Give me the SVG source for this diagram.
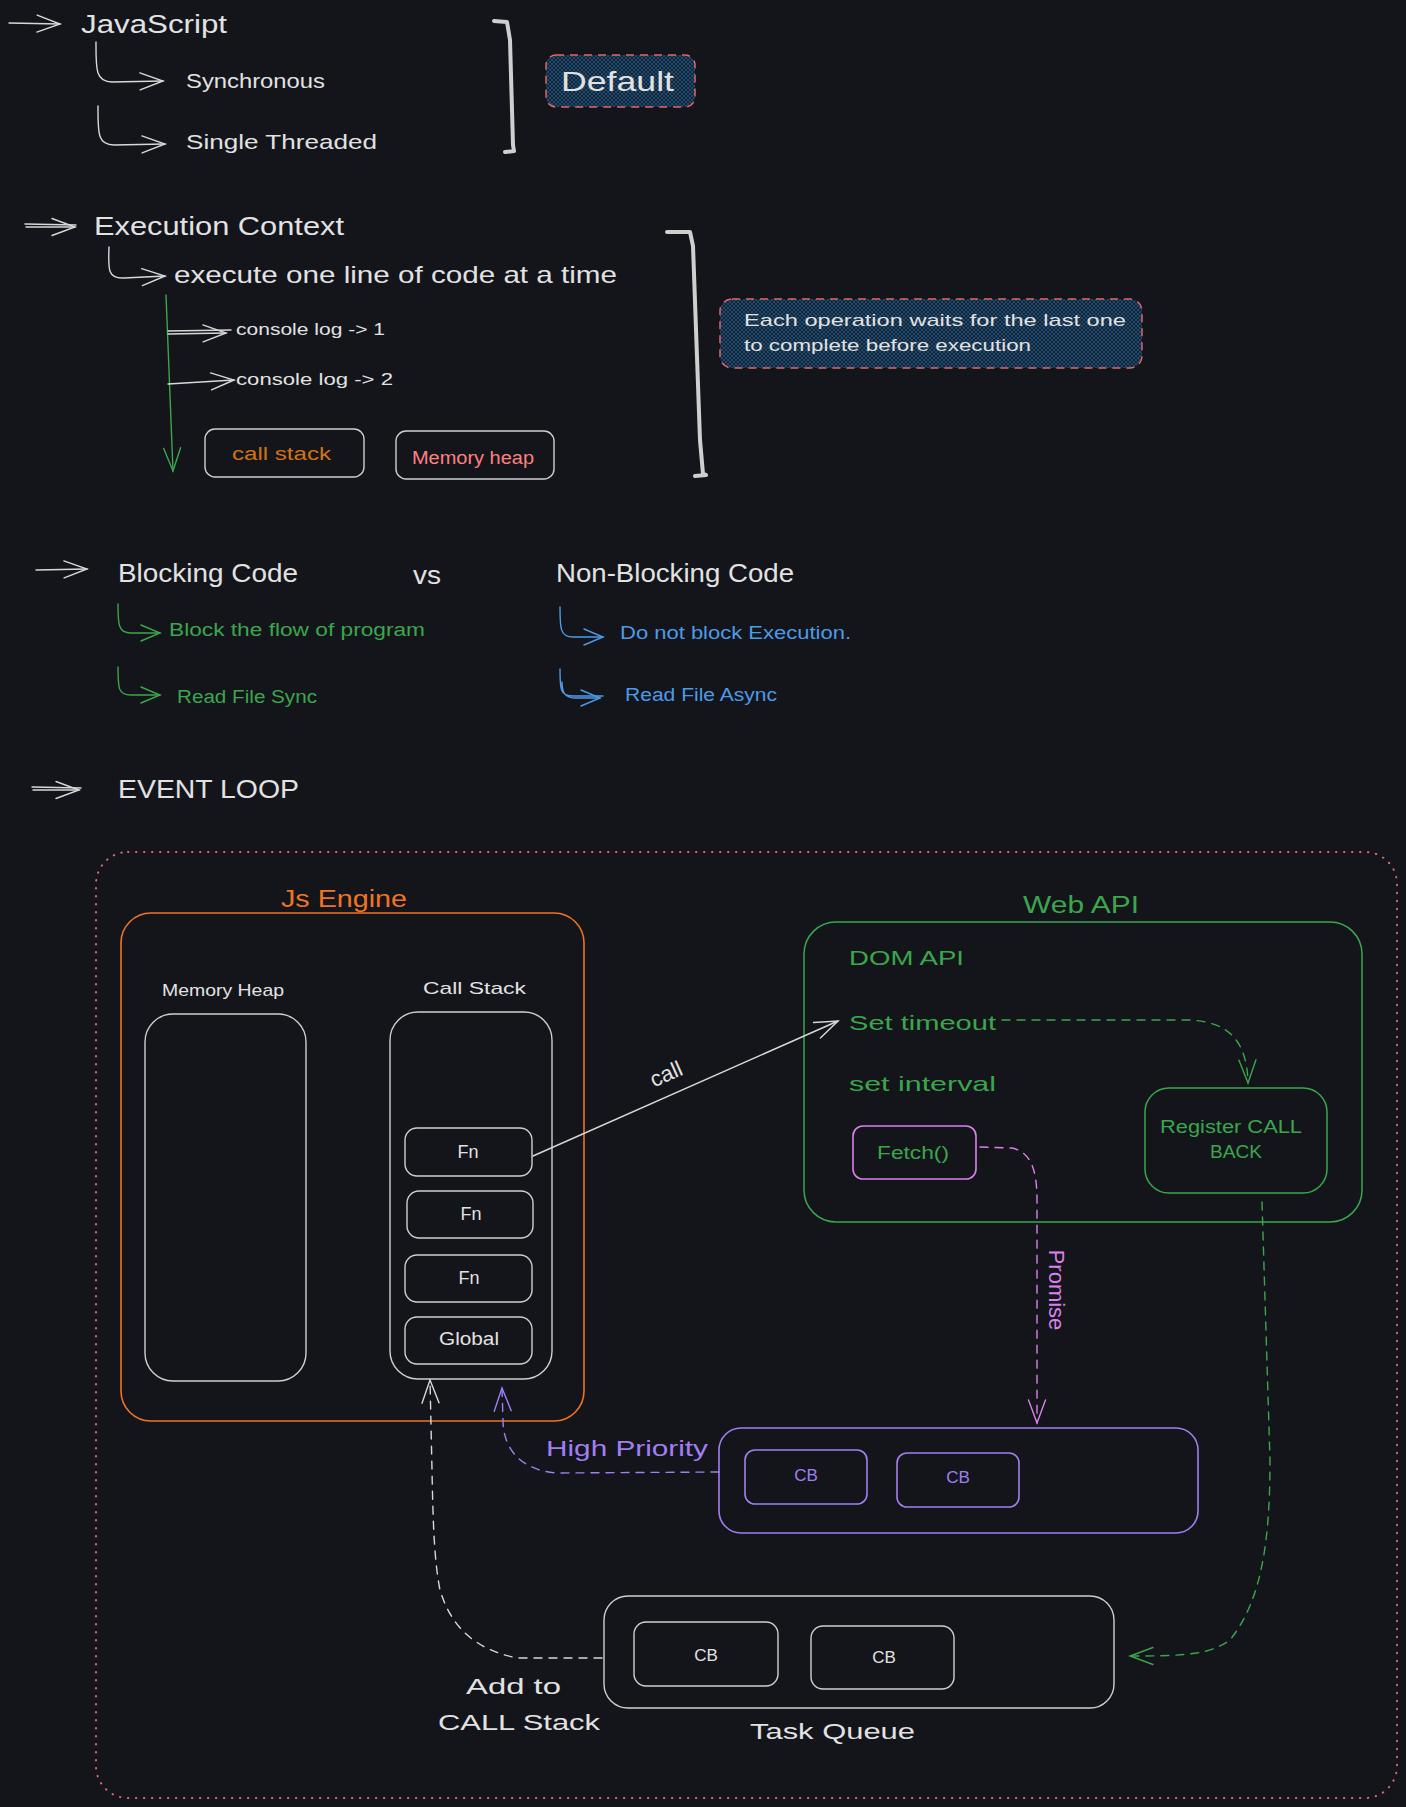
<svg xmlns="http://www.w3.org/2000/svg" width="1406" height="1807" viewBox="0 0 1406 1807">
  <defs>
    <style>
      text { font-family: "Liberation Sans", "Noto Sans", sans-serif; dominant-baseline: central; }
      .t { fill: #e2e2e2; }
      .green { fill: #3ba64d; }
      .blue { fill: #4c9be8; }
      .violet { fill: #a17ff2; }
      .pink { fill: #db80ec; }
      .orange { fill: #ef7424; }
      .box { fill: none; stroke: #cfcfcf; stroke-width: 1.4; }
      .box-green { fill: none; stroke: #3ba64d; stroke-width: 1.5; }
      .box-violet { fill: none; stroke: #a17ff2; stroke-width: 1.6; }
      .box-pink { fill: none; stroke: #db80ec; stroke-width: 1.6; }
      .box-orange { fill: none; stroke: #ef7424; stroke-width: 1.6; }
      .note { fill: url(#hatch); stroke: #e0666b; stroke-width: 1.5; stroke-dasharray: 8 6; }
      .bracket { fill: none; stroke: #cfcfcf; stroke-width: 4; stroke-linecap: round; stroke-linejoin: round; }
      .ln { fill: none; stroke-width: 1.4; stroke-linecap: round; }
      .w { stroke: #d8d8d8; }
      .g { stroke: #3ba64d; }
      .b { stroke: #4c9be8; }
      .v { stroke: #a17ff2; }
      .p { stroke: #db80ec; }
      .dash { stroke-dasharray: 8 7; }
      .frame { fill: none; stroke: #e0666b; stroke-width: 2; stroke-dasharray: 0.5 7.5; stroke-linecap: round; }
    </style>
    <!-- cross-hatch fill for the highlighted notes -->
    <pattern id="hatch" width="4" height="4" patternUnits="userSpaceOnUse">
      <rect width="4" height="4" fill="#152536"/>
      <path d="M0,4 L4,0 M-1,1 L1,-1 M3,5 L5,3" stroke="#1f4a70" stroke-width="1"/>
      <path d="M0,0 L4,4 M-1,3 L1,5 M3,-1 L5,1" stroke="#1f4a70" stroke-width="1"/>
    </pattern>
    <marker id="hw" markerUnits="userSpaceOnUse" orient="auto" overflow="visible" markerWidth="1" markerHeight="1">
      <path d="M-23,-8.5 L0,0 L-23,8.5" fill="none" stroke="#d8d8d8" stroke-width="1.4" stroke-linecap="round"/>
    </marker>
    <marker id="hg" markerUnits="userSpaceOnUse" orient="auto" overflow="visible" markerWidth="1" markerHeight="1">
      <path d="M-23,-8.5 L0,0 L-23,8.5" fill="none" stroke="#3ba64d" stroke-width="1.4" stroke-linecap="round"/>
    </marker>
    <marker id="hgs" markerUnits="userSpaceOnUse" orient="auto" overflow="visible" markerWidth="1" markerHeight="1">
      <path d="M-19,-8 L0,0 L-19,8" fill="none" stroke="#3ba64d" stroke-width="1.4" stroke-linecap="round"/>
    </marker>
    <marker id="hb" markerUnits="userSpaceOnUse" orient="auto" overflow="visible" markerWidth="1" markerHeight="1">
      <path d="M-19,-8 L0,0 L-19,8" fill="none" stroke="#4c9be8" stroke-width="1.4" stroke-linecap="round"/>
    </marker>
    <marker id="hv" markerUnits="userSpaceOnUse" orient="auto" overflow="visible" markerWidth="1" markerHeight="1">
      <path d="M-23,-8.5 L0,0 L-23,8.5" fill="none" stroke="#a17ff2" stroke-width="1.4" stroke-linecap="round"/>
    </marker>
    <marker id="hp" markerUnits="userSpaceOnUse" orient="auto" overflow="visible" markerWidth="1" markerHeight="1">
      <path d="M-23,-8.5 L0,0 L-23,8.5" fill="none" stroke="#db80ec" stroke-width="1.4" stroke-linecap="round"/>
    </marker>
  </defs>

  <rect width="1406" height="1807" fill="#13151a"/>

  <!-- JavaScript basics -->
  <g id="javascript">
    <text class="t" x="81" y="24" font-size="26" textLength="146" lengthAdjust="spacingAndGlyphs">JavaScript</text>
  </g>
  <g id="synchronous">
    <text class="t" x="186" y="80" font-size="21" textLength="139" lengthAdjust="spacingAndGlyphs">Synchronous</text>
  </g>
  <g id="single-threaded">
    <text class="t" x="186" y="141" font-size="21" textLength="191" lengthAdjust="spacingAndGlyphs">Single Threaded</text>
  </g>
  <g id="bracket-1">
    <path class="bracket" d="M494,21 L507,22 L510,40 L513,145 L514,151 L505,152"/>
  </g>
  <g id="default">
    <rect class="note" x="546" y="55" width="149" height="52" rx="10"/>
    <text class="t" x="561" y="81" font-size="28" textLength="113" lengthAdjust="spacingAndGlyphs">Default</text>
  </g>

  <!-- Execution context -->
  <g id="execution-context">
    <text class="t" x="94" y="226" font-size="26" textLength="250" lengthAdjust="spacingAndGlyphs">Execution Context</text>
  </g>
  <g id="execute-line">
    <text class="t" x="174" y="274" font-size="24" textLength="443" lengthAdjust="spacingAndGlyphs">execute one line of code at a time</text>
  </g>
  <g id="console-log-1">
    <text class="t" x="236" y="329" font-size="17" textLength="149" lengthAdjust="spacingAndGlyphs">console log -&gt; 1</text>
  </g>
  <g id="console-log-2">
    <text class="t" x="236" y="379" font-size="17" textLength="157" lengthAdjust="spacingAndGlyphs">console log -&gt; 2</text>
  </g>
  <g id="call-stack-small">
    <rect class="box" x="205" y="429" width="159" height="48" rx="10"/>
    <text style="fill:#d27313" x="232" y="454" font-size="18" textLength="99" lengthAdjust="spacingAndGlyphs">call stack</text>
  </g>
  <g id="memory-heap-small">
    <rect class="box" x="396" y="431" width="158" height="48" rx="10"/>
    <text style="fill:#ff8080" x="412" y="458" font-size="18" textLength="122" lengthAdjust="spacingAndGlyphs">Memory heap</text>
  </g>
  <g id="bracket-2">
    <path class="bracket" d="M667,232 L690,232 L693,246 L700,440 L703,474 L706,475 L695,476"/>
  </g>
  <g id="note-wait">
    <rect class="note" x="720" y="299" width="422" height="69" rx="12"/>
    <text class="t" x="744" y="320" font-size="17" textLength="382" lengthAdjust="spacingAndGlyphs">Each operation waits for the last one</text>
    <text class="t" x="744" y="345" font-size="17" textLength="287" lengthAdjust="spacingAndGlyphs">to complete before execution</text>
  </g>

  <!-- Blocking vs non-blocking -->
  <g id="blocking-code">
    <text class="t" x="118" y="573" font-size="26" textLength="180" lengthAdjust="spacingAndGlyphs">Blocking Code</text>
  </g>
  <g id="vs">
    <text class="t" x="413" y="575" font-size="26" textLength="28" lengthAdjust="spacingAndGlyphs">vs</text>
  </g>
  <g id="non-blocking-code">
    <text class="t" x="556" y="573" font-size="26" textLength="238" lengthAdjust="spacingAndGlyphs">Non-Blocking Code</text>
  </g>
  <g id="block-flow">
    <text class="green" x="169" y="630" font-size="18" textLength="256" lengthAdjust="spacingAndGlyphs">Block the flow of program</text>
  </g>
  <g id="read-file-sync">
    <text class="green" x="177" y="697" font-size="18" textLength="140" lengthAdjust="spacingAndGlyphs">Read File Sync</text>
  </g>
  <g id="no-block">
    <text class="blue" x="620" y="633" font-size="18" textLength="231" lengthAdjust="spacingAndGlyphs">Do not block Execution.</text>
  </g>
  <g id="read-file-async">
    <text class="blue" x="625" y="695" font-size="18" textLength="152" lengthAdjust="spacingAndGlyphs">Read File Async</text>
  </g>

  <!-- Event loop -->
  <g id="event-loop">
    <text class="t" x="118" y="789" font-size="26" textLength="181" lengthAdjust="spacingAndGlyphs">EVENT LOOP</text>
    <rect class="frame" x="96" y="852" width="1301" height="946" rx="32"/>
  </g>
  <g id="js-engine">
    <rect class="box-orange" x="121" y="913" width="463" height="508" rx="30"/>
    <text class="orange" x="281" y="899" font-size="23" textLength="126" lengthAdjust="spacingAndGlyphs">Js Engine</text>
  </g>
  <g id="memory-heap">
    <text class="t" x="162" y="990" font-size="17" textLength="122" lengthAdjust="spacingAndGlyphs">Memory Heap</text>
    <rect class="box" x="145" y="1014" width="161" height="367" rx="28"/>
  </g>
  <g id="call-stack">
    <text class="t" x="423" y="988" font-size="17" textLength="103" lengthAdjust="spacingAndGlyphs">Call Stack</text>
    <rect class="box" x="390" y="1012" width="162" height="367" rx="28"/>
  </g>
  <g id="fn-1">
    <rect class="box" x="405" y="1128" width="127" height="48" rx="12"/>
    <text class="t" x="468" y="1152" font-size="18" text-anchor="middle">Fn</text>
  </g>
  <g id="fn-2">
    <rect class="box" x="407" y="1191" width="126" height="47" rx="12"/>
    <text class="t" x="471" y="1214" font-size="18" text-anchor="middle">Fn</text>
  </g>
  <g id="fn-3">
    <rect class="box" x="405" y="1255" width="127" height="47" rx="12"/>
    <text class="t" x="469" y="1278" font-size="18" text-anchor="middle">Fn</text>
  </g>
  <g id="global">
    <rect class="box" x="405" y="1317" width="127" height="47" rx="12"/>
    <text class="t" x="439" y="1339" font-size="18" textLength="60" lengthAdjust="spacingAndGlyphs">Global</text>
  </g>
  <g id="web-api">
    <text class="green" x="1023" y="905" font-size="23" textLength="116" lengthAdjust="spacingAndGlyphs">Web API</text>
    <rect class="box-green" x="804" y="922" width="558" height="300" rx="32"/>
    <text class="green" x="849" y="957" font-size="21" textLength="115" lengthAdjust="spacingAndGlyphs">DOM API</text>
    <text class="green" x="849" y="1022" font-size="21" textLength="147" lengthAdjust="spacingAndGlyphs">Set timeout</text>
    <text class="green" x="849" y="1083" font-size="21" textLength="147" lengthAdjust="spacingAndGlyphs">set interval</text>
  </g>
  <g id="fetch">
    <rect class="box-pink" x="853" y="1126" width="123" height="53" rx="10"/>
    <text class="green" x="877" y="1153" font-size="18" textLength="72" lengthAdjust="spacingAndGlyphs">Fetch()</text>
  </g>
  <g id="register-callback">
    <rect class="box-green" x="1145" y="1088" width="182" height="105" rx="24"/>
    <text class="green" x="1160" y="1127" font-size="18" textLength="142" lengthAdjust="spacingAndGlyphs">Register CALL</text>
    <text class="green" x="1210" y="1152" font-size="18" textLength="52" lengthAdjust="spacingAndGlyphs">BACK</text>
  </g>
  <g id="microtask-queue">
    <rect class="box-violet" x="719" y="1428" width="479" height="105" rx="22"/>
    <rect class="box-violet" x="745" y="1450" width="122" height="54" rx="10"/>
    <text class="violet" x="806" y="1475" font-size="17" text-anchor="middle">CB</text>
    <rect class="box-violet" x="897" y="1453" width="122" height="54" rx="10"/>
    <text class="violet" x="958" y="1477" font-size="17" text-anchor="middle">CB</text>
  </g>
  <g id="task-queue">
    <rect class="box" x="604" y="1596" width="510" height="112" rx="24"/>
    <rect class="box" x="634" y="1622" width="144" height="64" rx="12"/>
    <text class="t" x="706" y="1655" font-size="17" text-anchor="middle">CB</text>
    <rect class="box" x="811" y="1626" width="143" height="63" rx="12"/>
    <text class="t" x="884" y="1657" font-size="17" text-anchor="middle">CB</text>
    <text class="t" x="750" y="1731" font-size="22" textLength="165" lengthAdjust="spacingAndGlyphs">Task Queue</text>
  </g>

  <!-- Connectors -->
  <g id="connectors">
    <!-- top section -->
    <path class="ln w" d="M9,23 L60,24" marker-end="url(#hw)"/>
    <path class="ln w" d="M96,42 C96,68 95,82 112,82 L163,81" marker-end="url(#hw)"/>
    <path class="ln w" d="M98,106 C98,132 97,145 114,145 L165,144" marker-end="url(#hw)"/>
    <path class="ln w" d="M25,224 L76,225 M26,227 L75,227" marker-end="url(#hw)"/>
    <path class="ln w" d="M109,247 C108,270 108,279 124,278 L165,276" marker-end="url(#hw)"/>
    <path class="ln g" d="M166,295 L173,471" marker-end="url(#hg)"/>
    <path class="ln w" d="M168,331 L231,330 M168,334 L226,333" marker-end="url(#hw)"/>
    <path class="ln w" d="M168,384 L234,380" marker-end="url(#hw)"/>
    <path class="ln w" d="M36,570 L87,569" marker-end="url(#hw)"/>
    <path class="ln g" d="M118,604 C118,624 118,633 131,633 L160,633" marker-end="url(#hgs)"/>
    <path class="ln g" d="M118,667 C118,688 118,695 131,695 L160,695" marker-end="url(#hgs)"/>
    <path class="ln b" d="M560,607 C560,628 560,637 573,637 L603,637" marker-end="url(#hb)"/>
    <path class="ln b" d="M560,669 C560,689 560,696 573,696 L603,696 M562,682 C562,693 565,698 576,698 L600,698" marker-end="url(#hb)"/>
    <path class="ln w" d="M32,787 L81,788 M33,790 L79,790" marker-end="url(#hw)"/>
    <!-- event loop -->
    <path class="ln w" d="M533,1156 L838,1021" marker-end="url(#hw)"/>
    <text class="t" x="666" y="1074" font-size="22" text-anchor="middle" transform="rotate(-24 666 1074)">call</text>
    <path class="ln g dash" d="M1002,1020 L1190,1020 C1228,1022 1247,1040 1248,1083" marker-end="url(#hg)"/>
    <path class="ln p dash" d="M980,1147 L1012,1148 C1030,1152 1037,1168 1037,1200 L1037,1423" marker-end="url(#hp)"/>
    <text class="pink" x="1056" y="1290" font-size="22" text-anchor="middle" transform="rotate(90 1056 1290)">Promise</text>
    <path class="ln v dash" d="M719,1472 L556,1473 C522,1470 503,1450 503,1420 L502,1388" marker-end="url(#hv)"/>
    <text class="violet" x="546" y="1448" font-size="22" textLength="162" lengthAdjust="spacingAndGlyphs">High Priority</text>
    <path class="ln w dash" d="M602,1658 L517,1658 C478,1650 452,1630 440,1590 C434,1560 433,1520 432,1470 L430,1380" marker-end="url(#hw)"/>
    <text class="t" x="466" y="1686" font-size="22" textLength="95" lengthAdjust="spacingAndGlyphs">Add to</text>
    <text class="t" x="438" y="1722" font-size="22" textLength="162" lengthAdjust="spacingAndGlyphs">CALL Stack</text>
    <path class="ln g dash" d="M1262,1202 L1270,1460 C1270,1540 1262,1600 1230,1640 C1210,1654 1190,1656 1130,1656" marker-end="url(#hg)"/>
  </g>
</svg>
